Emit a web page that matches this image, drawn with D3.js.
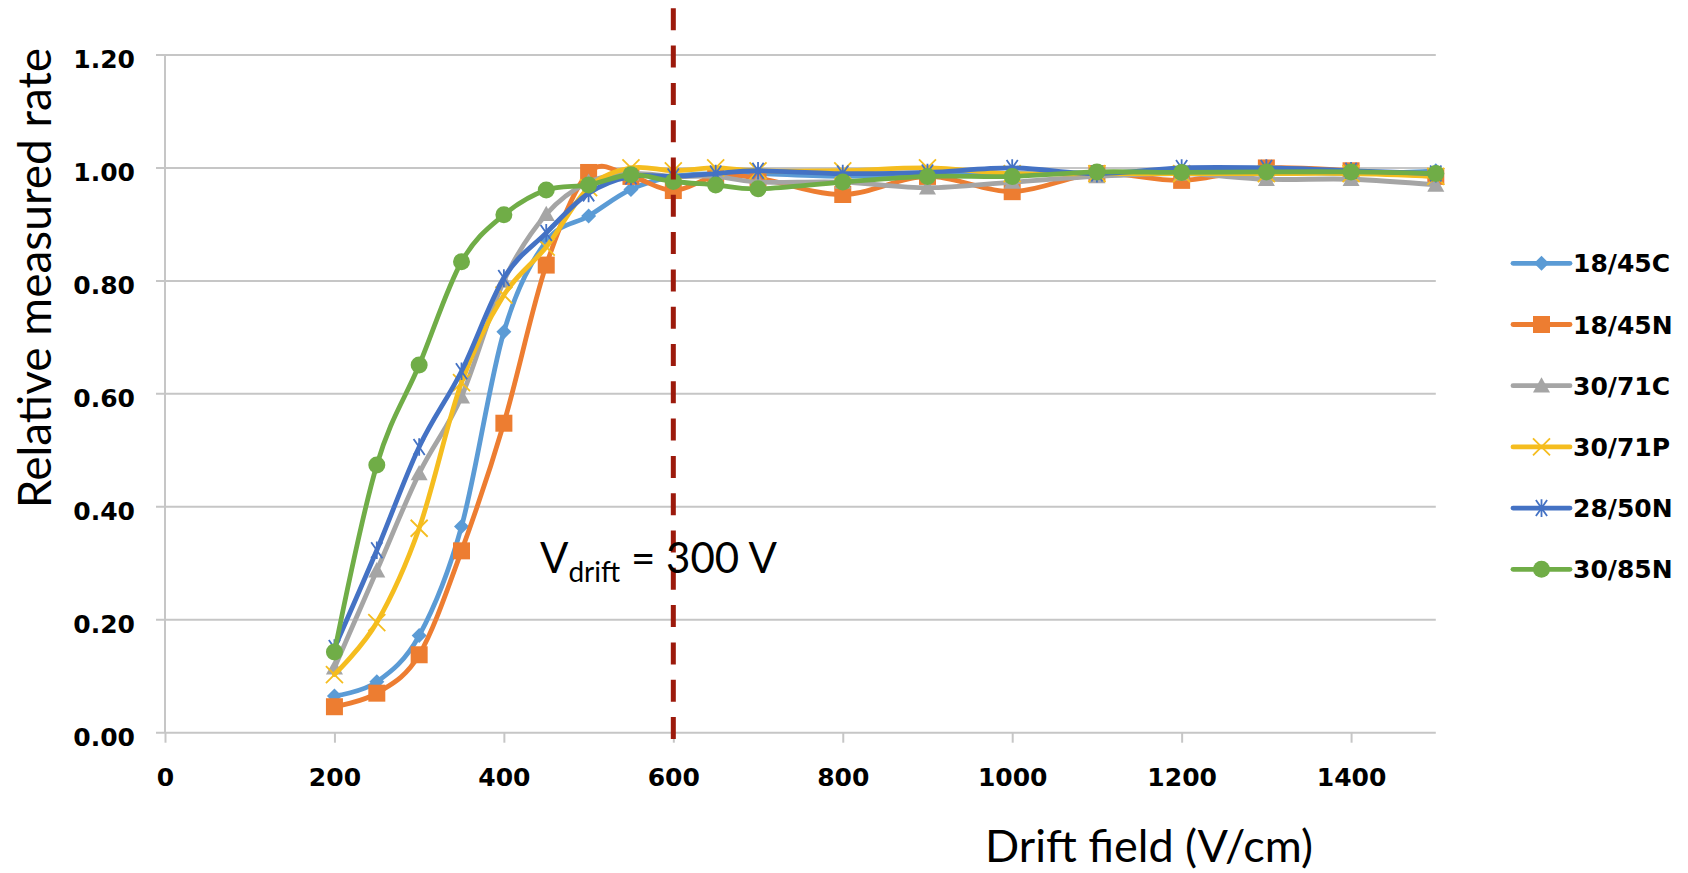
<!DOCTYPE html>
<html>
<head>
<meta charset="utf-8">
<script src="https://cdn.jsdelivr.net/npm/d3@7"></script>
<style>
  html, body { margin: 0; padding: 0; background: #fff; }
  svg { display: block; }
</style>
</head>
<body>
<div id="chart"></div>
<script>
// x values: drift field in V/cm
const driftField = [200, 250, 300, 350, 400, 450, 500, 550, 600, 650, 700, 800, 900, 1000, 1100, 1200, 1300, 1400, 1500];

// relative measured rate, one array per gas mixture
const rate1845C = [0.065, 0.090, 0.172, 0.365, 0.710, 0.870, 0.915, 0.962, 0.985, 0.990, 0.990, 0.985, 0.990, 0.990, 0.990, 0.995, 0.995, 0.990, 0.995];
const rate1845N = [0.046, 0.070, 0.138, 0.322, 0.548, 0.828, 0.992, 0.985, 0.960, 0.985, 0.982, 0.953, 0.985, 0.958, 0.990, 0.978, 1.000, 0.995, 0.985];
const rate3071C = [0.115, 0.287, 0.459, 0.595, 0.800, 0.918, 0.975, 0.990, 0.985, 0.985, 0.975, 0.975, 0.965, 0.975, 0.985, 0.990, 0.980, 0.980, 0.970];
const rate3071P = [0.103, 0.195, 0.362, 0.620, 0.775, 0.860, 0.965, 1.000, 0.995, 1.000, 0.995, 0.995, 1.000, 0.990, 0.990, 0.990, 0.990, 0.990, 0.985];
const rate2850N = [0.150, 0.323, 0.506, 0.640, 0.805, 0.885, 0.955, 0.985, 0.985, 0.990, 0.995, 0.990, 0.992, 1.000, 0.990, 1.000, 1.000, 0.995, 0.990];
const rate3085N = [0.143, 0.474, 0.651, 0.834, 0.917, 0.961, 0.970, 0.988, 0.976, 0.970, 0.963, 0.975, 0.985, 0.985, 0.993, 0.992, 0.993, 0.993, 0.990];

const seriesNames = ["18/45C", "18/45N", "30/71C", "30/71P", "28/50N", "30/85N"];
const seriesValues = [rate1845C, rate1845N, rate3071C, rate3071P, rate2850N, rate3085N];
const seriesColors = ["#5B9BD5", "#ED7D31", "#A5A5A5", "#F5BD1F", "#4472C4", "#70AD47"];
const seriesMarkers = ["diamond", "square", "triangle", "cross", "star", "circle"];

const yTicks = [0, 0.2, 0.4, 0.6, 0.8, 1.0, 1.2];
const xTicks = [0, 200, 400, 600, 800, 1000, 1200, 1400];
const markerField = 600;

const width = 1688;
const height = 873;

const svg = d3.select("#chart")
    .append("svg")
    .attr("width", width)
    .attr("height", height);

const x = d3.scaleLinear().domain([0, 1500]).range([165, 1435.8]);
const y = d3.scaleLinear().domain([0, 1.2]).range([732.7, 55]);

const gridColor = "#C6C6C6";
const tickFont = "'DejaVu Sans', Verdana, sans-serif";
const titleFont = "Lato, 'Open Sans', sans-serif";

// Horizontal gridlines (they stick out a little to the left as ticks)
svg.append("g")
    .attr("class", "grid")
    .selectAll("line")
    .data(yTicks)
    .enter().append("line")
    .attr("x1", x(0) - 9)
    .attr("x2", x(1500))
    .attr("y1", d => y(d))
    .attr("y2", d => y(d))
    .attr("stroke", gridColor)
    .attr("stroke-width", 2);

// Vertical axis line
svg.append("line")
    .attr("x1", x(0)).attr("x2", x(0))
    .attr("y1", y(1.2)).attr("y2", y(0))
    .attr("stroke", gridColor)
    .attr("stroke-width", 2);

// Y axis labels
const yAxis = d3.axisLeft(y)
    .tickValues(yTicks)
    .tickFormat(d3.format(".2f"))
    .tickSize(0)
    .tickPadding(30);

svg.append("g")
    .attr("transform", `translate(${x(0)},0)`)
    .call(yAxis)
    .call(g => g.select(".domain").remove())
    .call(g => g.selectAll("text")
        .attr("dy", "0.5em")
        .attr("fill", "#000")
        .style("font-family", tickFont)
        .style("font-weight", "bold")
        .style("font-size", "25px"));

// X axis ticks and labels
const xAxis = d3.axisBottom(x)
    .tickValues(xTicks)
    .tickFormat(d3.format("d"))
    .tickSizeInner(10)
    .tickSizeOuter(0)
    .tickPadding(26);

svg.append("g")
    .attr("transform", `translate(0,${y(0)})`)
    .call(xAxis)
    .call(g => g.select(".domain").remove())
    .call(g => g.selectAll(".tick line").attr("stroke", gridColor).attr("stroke-width", 2))
    .call(g => g.selectAll("text")
        .attr("fill", "#000")
        .style("font-family", tickFont)
        .style("font-weight", "bold")
        .style("font-size", "25px"));

// Marker shapes
function markerPath(type, s) {
    const h = s / 2;
    switch (type) {
        case "diamond": return `M0,${-h}L${h},0L0,${h}L${-h},0Z`;
        case "square": return `M${-h},${-h}H${h}V${h}H${-h}Z`;
        case "triangle": return `M0,${-h}L${h},${h * 0.8}L${-h},${h * 0.8}Z`;
        case "cross": return `M${-h},${-h}L${h},${h}M${-h},${h}L${h},${-h}`;
        case "star": return `M${-h * 0.7},${-h}L${h * 0.7},${h}M${-h * 0.7},${h}L${h * 0.7},${-h}M0,${-h * 1.1}V${h * 1.1}`;
        default: return "";
    }
}
const markerSize = { diamond: 15, square: 17, triangle: 17, cross: 17, star: 16, circle: 17 };

function drawMarker(sel, type, color) {
    if (type === "circle") {
        sel.append("circle")
            .attr("r", markerSize.circle / 2)
            .attr("fill", color);
    } else if (type === "cross" || type === "star") {
        sel.append("path")
            .attr("d", markerPath(type, markerSize[type]))
            .attr("fill", "none")
            .attr("stroke", color)
            .attr("stroke-width", 1.8);
    } else {
        sel.append("path")
            .attr("d", markerPath(type, markerSize[type]))
            .attr("fill", color);
    }
}

const line = d3.line()
    .x(d => x(d[0]))
    .y(d => y(d[1]))
    .curve(d3.curveCatmullRom.alpha(0));

const seriesG = svg.append("g").attr("class", "series");

seriesNames.forEach((name, i) => {
    const pts = driftField.map((f, j) => [f, seriesValues[i][j]]);
    const g = seriesG.append("g").attr("class", "serie");

    g.append("path")
        .datum(pts)
        .attr("d", line)
        .attr("fill", "none")
        .attr("stroke", seriesColors[i])
        .attr("stroke-width", 4.8)
        .attr("stroke-linejoin", "round")
        .attr("stroke-linecap", "round");

    g.selectAll("g.pt")
        .data(pts)
        .enter().append("g")
        .attr("class", "pt")
        .attr("transform", d => `translate(${x(d[0])},${y(d[1])})`)
        .each(function () { drawMarker(d3.select(this), seriesMarkers[i], seriesColors[i]); });
});

// Dashed reference line at 600 V/cm
svg.append("line")
    .attr("x1", x(markerField)).attr("x2", x(markerField))
    .attr("y1", 8.3).attr("y2", 741)
    .attr("stroke", "#9C1A0C")
    .attr("stroke-width", 5)
    .attr("stroke-dasharray", "22,15.3");

// Annotation
const note = svg.append("text")
    .attr("x", 540)
    .attr("y", 573.3)
    .attr("fill", "#000")
    .style("font-family", titleFont)
    .style("font-size", "42px");
note.append("tspan").text("V");
note.append("tspan").attr("dy", 9).style("font-size", "28px").text("drift");
note.append("tspan").attr("dy", -9).text(" = 300 V");

// Legend
const legend = svg.append("g").attr("class", "legend");
seriesNames.forEach((name, i) => {
    const ly = 263.3 + i * 61.2;
    const lg = legend.append("g").attr("transform", `translate(0,${ly})`);
    lg.append("line")
        .attr("x1", 1513).attr("x2", 1570)
        .attr("stroke", seriesColors[i])
        .attr("stroke-width", 4.8)
        .attr("stroke-linecap", "round");
    const mk = lg.append("g").attr("transform", "translate(1541.5,0)");
    drawMarker(mk, seriesMarkers[i], seriesColors[i]);
    lg.append("text")
        .attr("x", 1573)
        .attr("dy", "0.36em")
        .attr("fill", "#000")
        .style("font-family", tickFont)
        .style("font-weight", "bold")
        .style("font-size", "25px")
        .text(name);
});

// Axis titles
svg.append("text")
    .attr("transform", "translate(51,278) rotate(-90)")
    .attr("text-anchor", "middle")
    .attr("fill", "#000")
    .style("font-family", titleFont)
    .style("font-size", "46px")
    .text("Relative measured rate");

svg.append("text")
    .attr("x", 985)
    .attr("y", 862)
    .attr("fill", "#000")
    .style("font-family", titleFont)
    .style("font-size", "45px")
    .text("Drift field (V/cm)");
</script>
</body>
</html>
